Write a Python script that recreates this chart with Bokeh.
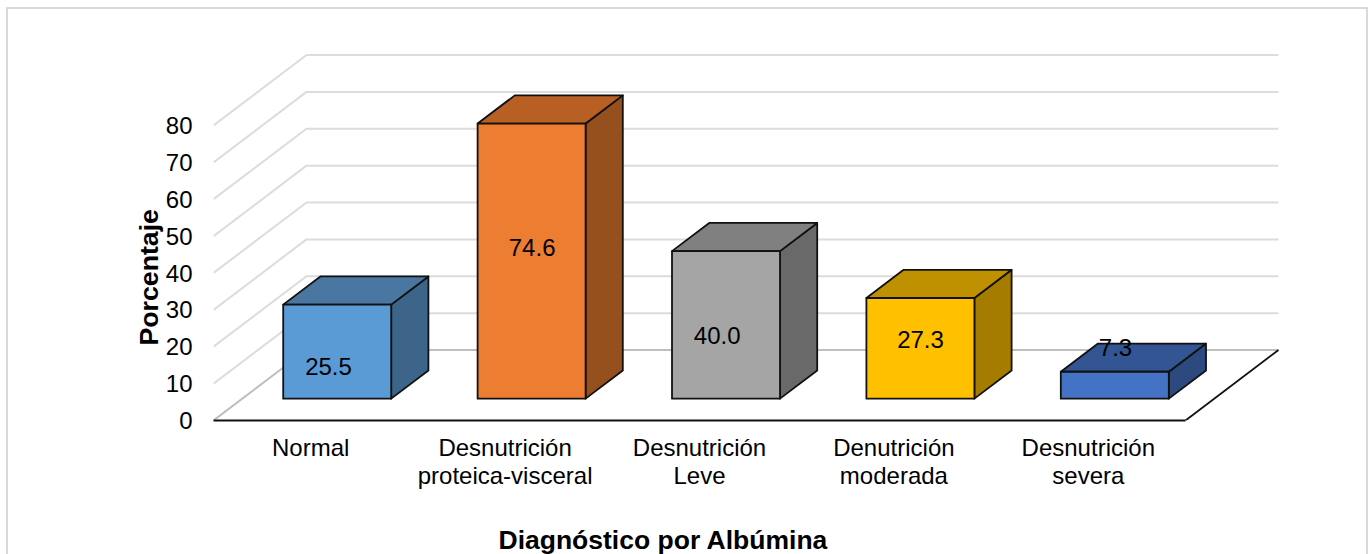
from bokeh.plotting import figure
from bokeh.embed import file_html
from bokeh.resources import INLINE
from bokeh.models import FixedTicker, LinearAxis, Range1d, InlineStyleSheet, Title
from bokeh.core.properties import value

categories = ["Normal", "Desnutrición\nproteica-visceral", "Desnutrición\nLeve", "Denutrición\nmoderada", "Desnutrición\nsevera"]
values = [25.5, 74.6, 40.0, 27.3, 7.3]
value_text = ["25.5", "74.6", "40.0", "27.3", "7.3"]
y_ticks = [0, 10, 20, 30, 40, 50, 60, 70, 80]
front_colors = ["#5B9BD5", "#ED7D31", "#A5A5A5", "#FFC000", "#4472C4"]
top_colors = ["#4A77A2", "#B85F24", "#808080", "#BF9000", "#335593"]
side_colors = ["#3C6589", "#96501D", "#696969", "#A67C00", "#2C4A80"]
# hand-placed data labels of the original chart, in axis units
label_x = [0.5916, 1.639, 2.591, 3.637, 4.640]
label_y = [14.6, 47.0, 23.1, 22.0, 19.8]

FONT = "Liberation Sans"
PX_X = 194.4      # pixels per category
PX_Y = 3.6875     # pixels per percentage point
DEPTH_X = 93 / PX_X
DEPTH_Y = 70.5 / PX_Y
BAR_W = 108 / PX_X
BAR_FRONT_X = 0.285  # share of the floor depth in front of the bars
BAR_FRONT_Y = 0.31
BAR_DEPTH = 0.40     # share of the floor depth taken by the bars

p = figure(width=1368, height=554, output_backend="svg", toolbar_location=None,
           x_range=Range1d(0, 1067 / PX_X), y_range=Range1d(0, 380 / PX_Y),
           min_border_left=213, min_border_right=88, min_border_top=40, min_border_bottom=134,
           background_fill_color="white", border_fill_color="white", outline_line_color=None)
p.grid.visible = False

# chart border (left, top and right edges; the bottom falls outside the page)
p.stylesheets = [InlineStyleSheet(css=":host::after{content:'';position:absolute;left:6px;top:7px;width:1362px;"
                                      "height:547px;box-sizing:border-box;border:2px solid #D9D9D9;"
                                      "border-bottom:none;pointer-events:none;}")]

# walls
grid_xs, grid_ys, grid_colors = [], [], []
for t in y_ticks:
    grid_xs.append([0, DEPTH_X, 5 + DEPTH_X])
    grid_ys.append([t, t + DEPTH_Y, t + DEPTH_Y])
    grid_colors.append("#BFBFBF" if t == 0 else "#DCDCDC")
p.multi_line(grid_xs, grid_ys, line_color=grid_colors, line_width=2)

# floor edges
p.line([5, 5 + DEPTH_X], [0, DEPTH_Y], line_color="#111111", line_width=1.8)

# bars
for i, v in enumerate(values):
    x0 = i + 0.5 + BAR_FRONT_X * DEPTH_X - BAR_W / 2
    x1 = x0 + BAR_W
    y0 = BAR_FRONT_Y * DEPTH_Y
    y1 = y0 + v
    dx = BAR_DEPTH * DEPTH_X
    dy = BAR_DEPTH * DEPTH_Y
    p.patch([x1, x1 + dx, x1 + dx, x1], [y0, y0 + dy, y1 + dy, y1], fill_color=side_colors[i],
            line_color="#111111", line_width=1.8, line_join="round")
    p.patch([x0, x0 + dx, x1 + dx, x1], [y1, y1 + dy, y1 + dy, y1], fill_color=top_colors[i],
            line_color="#111111", line_width=1.8, line_join="round")
    p.patch([x0, x1, x1, x0], [y0, y0, y1, y1], fill_color=front_colors[i],
            line_color="#111111", line_width=1.8, line_join="round")

# value labels
p.text(label_x, label_y, text=value_text, text_font=value(FONT), text_font_size="24px",
       text_color="#000000", text_align="center", text_baseline="middle")

# axes
ya = p.yaxis[0]
ya.ticker = FixedTicker(ticks=y_ticks)
ya.axis_line_color = None
ya.major_tick_line_color = None
ya.major_tick_out = 0
ya.minor_tick_line_color = None
ya.major_label_text_font = FONT
ya.major_label_text_font_size = "24px"
ya.major_label_text_color = "#000000"
ya.major_label_standoff = 21

xa = p.xaxis[0]
xa.ticker = FixedTicker(ticks=[i + 0.5 for i in range(len(categories))])
xa.major_label_overrides = {i + 0.5: c for i, c in enumerate(categories)}
xa.bounds = (0, 5)
xa.axis_line_color = "#111111"
xa.axis_line_width = 2
xa.major_tick_line_color = None
xa.major_tick_out = 0
xa.minor_tick_line_color = None
xa.major_label_text_font = FONT
xa.major_label_text_font_size = "24px"
xa.major_label_text_color = "#000000"
xa.major_label_text_line_height = 1.04
xa.major_label_standoff = 13

# empty axis that only opens the gap between the tick labels and the axis title
p.add_layout(LinearAxis(ticker=FixedTicker(ticks=[]), major_tick_out=0, major_tick_in=0,
                        minor_tick_out=0, minor_tick_in=0, major_label_standoff=0,
                        axis_line_color=None, major_tick_line_color=None,
                        minor_tick_line_color=None, axis_label=" ", axis_label_standoff=27,
                        axis_label_text_font_size="1px"), "below")

# axis titles, off-centre as in the original
p.add_layout(Title(text="Porcentaje", align="left", offset=75, standoff=-2,
                   text_font=FONT, text_font_size="26.7px", text_font_style="bold",
                   text_color="#000000"), "left")
p.add_layout(Title(text="Diagnóstico por Albúmina", align="left", offset=285, standoff=0,
                   text_font=FONT, text_font_size="26.5px", text_font_style="bold",
                   text_color="#000000"), "below")

open("out.html", "w").write(file_html(p, INLINE))
